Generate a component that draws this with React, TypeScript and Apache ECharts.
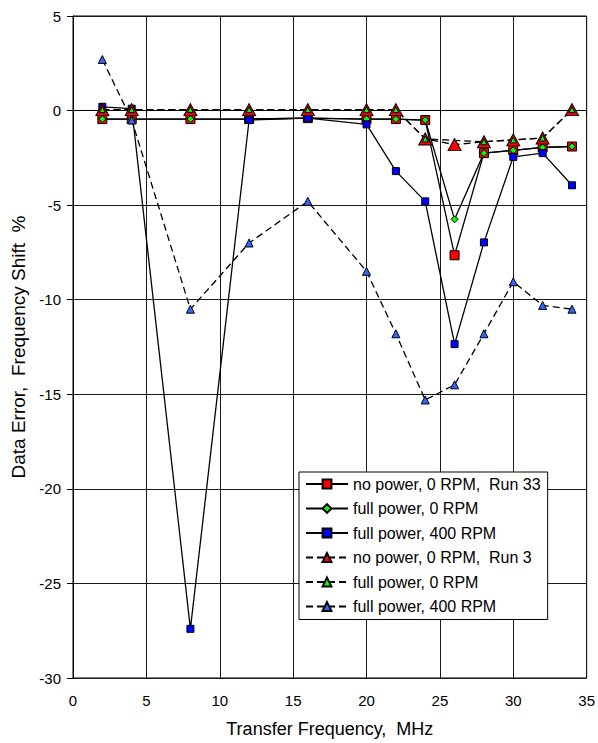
import React, { useEffect, useRef } from "react";
import * as echarts from "echarts";

const frequencies = [2, 4, 8, 12, 16, 20, 22, 24, 26, 28, 30, 32, 34];

const noPowerRun33 = [-0.45, -0.45, -0.45, -0.45, -0.4, -0.45, -0.45, -0.5, -7.65, -2.25, -2.1, -1.95, -1.9];
const fullPower0Solid = [-0.45, -0.45, -0.45, -0.45, -0.4, -0.45, -0.45, -0.5, -5.75, -2.25, -2.1, -1.95, -1.9];
const fullPower400Solid = [0.2, 0.1, -27.4, -0.5, -0.4, -0.73, -3.2, -4.8, -12.35, -6.97, -2.45, -2.25, -3.95];
const noPowerRun3 = [0.05, 0.05, 0.05, 0.05, 0.05, 0.05, 0.05, -1.5, -1.8, -1.65, -1.55, -1.45, 0.05];
const fullPower0Dashed = [0.05, 0.05, 0.05, 0.05, 0.05, 0.05, 0.05, -1.5, null, -1.65, -1.55, -1.45, 0.05];
const fullPower400Dashed = [2.7, -0.5, -10.5, -7.0, -4.8, -8.5, -11.8, -15.3, -14.5, -11.8, -9.05, -10.3, -10.5];

const seriesNames = [
  "no power, 0 RPM,  Run 33",
  "full power, 0 RPM",
  "full power, 400 RPM",
  "no power, 0 RPM,  Run 3",
  "full power, 0 RPM ",
  "full power, 400 RPM ",
];

const xTicks = { min: 0, max: 35, interval: 5 };
const yTicks = { min: -30, max: 5, interval: 5 };

const FONT = "'Liberation Sans', Arial, sans-serif";

function pairs(values: (number | null)[]) {
  const out: [number, number][] = [];
  values.forEach((v, i) => {
    if (v !== null) out.push([frequencies[i], v]);
  });
  return out;
}

export default function App() {
  const ref = useRef<HTMLDivElement>(null);

  useEffect(() => {
    document.body.style.margin = "0";
    if (!ref.current) return;
    const chart = echarts.init(ref.current, undefined, { renderer: "svg" });
    const dash = [7, 4];
    const mk = (
      name: string,
      values: (number | null)[],
      symbol: string,
      size: number | number[],
      color: string,
      dashed: boolean
    ) => ({
      name,
      type: "line",
      data: pairs(values),
      symbol,
      symbolSize: size,
      showSymbol: true,
      lineStyle: { color: "#000", width: 1.3, type: dashed ? dash : "solid" },
      itemStyle: { color, borderColor: "#000", borderWidth: 1 },
      emphasis: { disabled: true },
    });

    chart.setOption({
      animation: false,
      backgroundColor: "#fff",
      grid: {
        left: 73,
        right: 11,
        top: 16,
        bottom: 64,
        show: true,
        borderColor: "#000",
        borderWidth: 1,
        backgroundColor: "transparent",
      },
      legend: {
        orient: "vertical",
        left: 299,
        top: 472,
        itemWidth: 42,
        itemHeight: 11,
        itemGap: 8.5,
        padding: [4, 7, 5, 6],
        backgroundColor: "#fff",
        borderColor: "#000",
        borderWidth: 1,
        textStyle: { fontSize: 16, lineHeight: 16, color: "#000", fontFamily: FONT },
        data: seriesNames,
      },
      xAxis: {
        type: "value",
        min: xTicks.min,
        max: xTicks.max,
        interval: xTicks.interval,
        name: "Transfer Frequency,  MHz",
        nameLocation: "middle",
        nameGap: 42,
        nameTextStyle: { fontSize: 18, color: "#000", fontFamily: FONT },
        axisLine: { lineStyle: { color: "#000", width: 1 } },
        axisTick: { show: true, inside: false, length: 5, lineStyle: { color: "#000" } },
        axisLabel: { fontSize: 15, color: "#000", fontFamily: FONT, margin: 15 },
        splitLine: { show: true, lineStyle: { color: "#1a1a1a", width: 1 } },
      },
      yAxis: {
        type: "value",
        min: yTicks.min,
        max: yTicks.max,
        interval: yTicks.interval,
        name: "Data Error,  Frequency Shift  %",
        nameLocation: "middle",
        nameRotate: 90,
        nameGap: 44,
        nameTextStyle: { fontSize: 19, color: "#000", fontFamily: FONT },
        axisLine: { show: true, lineStyle: { color: "#000", width: 1 } },
        axisTick: { show: true, inside: false, length: 6, lineStyle: { color: "#000" } },
        axisLabel: { fontSize: 15, color: "#000", fontFamily: FONT, margin: 12 },
        splitLine: { show: true, lineStyle: { color: "#1a1a1a", width: 1 } },
      },
      series: [
        mk(seriesNames[0], noPowerRun33, "rect", 9, "#ff0000", false),
        mk(seriesNames[1], fullPower0Solid, "diamond", 7, "#00ff00", false),
        mk(seriesNames[2], fullPower400Solid, "rect", 7, "#0000ff", false),
        mk(seriesNames[3], noPowerRun3, "triangle", [13, 12], "#ff0000", true),
        mk(seriesNames[4], fullPower0Dashed, "triangle", 6, "#00ff00", true),
        mk(seriesNames[5], fullPower400Dashed, "triangle", 8, "#3366ff", true),
      ],
    });
    return () => chart.dispose();
  }, []);

  return <div ref={ref} style={{ width: 598, height: 743 }} />;
}
